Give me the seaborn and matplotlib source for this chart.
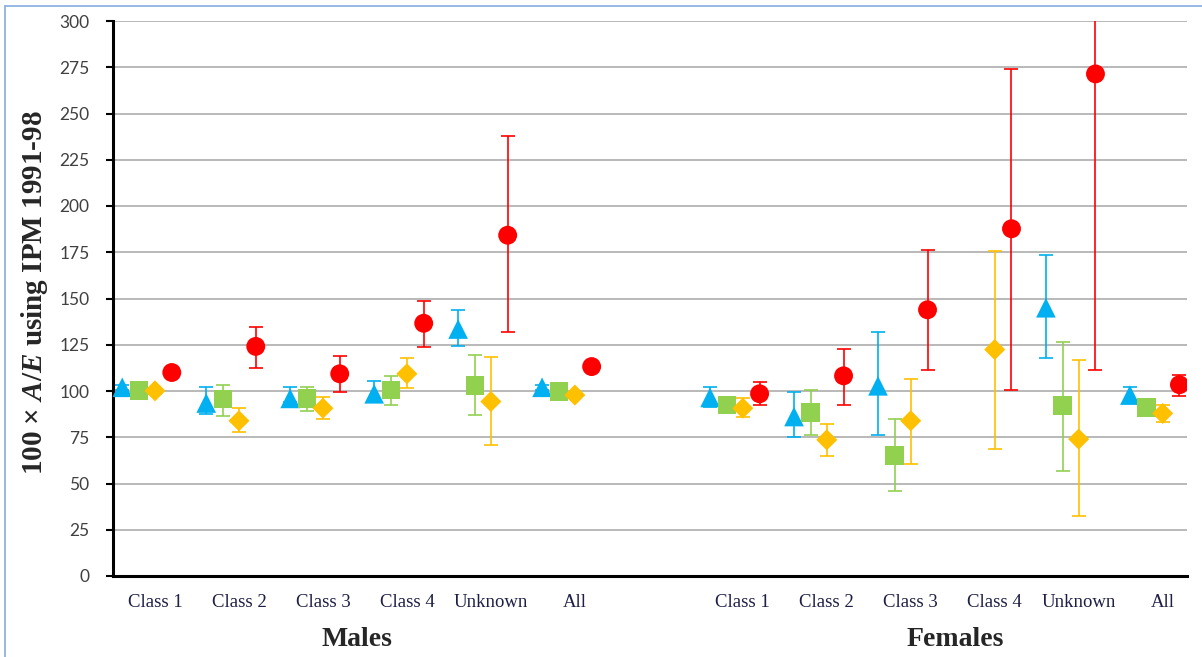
import numpy as np
import pandas as pd
import matplotlib
matplotlib.use("Agg")
import matplotlib.pyplot as plt
import seaborn as sns
from matplotlib.lines import Line2D
from matplotlib.ticker import FixedLocator

nan = np.nan

# ---------------- data ----------------
categories = ["Class 1", "Class 2", "Class 3", "Class 4", "Unknown", "All"]
groups = ["Males", "Females"]
series_names = ["Triangle series", "Square series", "Diamond series", "Circle series"]

# values: Males (6) then Females (6)
tri_val = [102.0, 93.5, 96.0, 98.5, 133.5, 102.0, 96.5, 86.2, 102.8, nan, 145.0, 97.8]
tri_lo = [100.5, 87.5, 94.0, 94.0, 124.5, 100.5, 91.5, 75.2, 76.1, nan, 118.0, 94.0]
tri_hi = [103.5, 102.0, 102.0, 105.5, 143.6, 103.5, 102.1, 99.4, 131.7, nan, 173.7, 102.3]

sq_val = [100.3, 95.6, 96.0, 100.5, 103.0, 99.6, 92.4, 88.4, 65.1, nan, 92.2, 91.0]
sq_lo = [98.0, 86.6, 89.3, 92.7, 86.8, 97.5, 90.0, 76.3, 45.8, nan, 56.6, 89.0]
sq_hi = [102.5, 103.0, 102.1, 108.2, 119.3, 101.5, 95.0, 100.5, 85.0, nan, 126.7, 93.0]

dia_val = [100.1, 83.9, 90.7, 109.3, 94.3, 97.8, 90.7, 73.6, 83.9, 122.4, 74.0, 87.9]
dia_lo = [98.5, 77.7, 85.0, 101.4, 71.0, 96.5, 85.7, 64.9, 60.4, 68.8, 32.3, 83.3]
dia_hi = [101.5, 90.7, 97.0, 117.8, 118.6, 99.0, 96.0, 82.1, 106.4, 175.9, 116.6, 92.2]

cir_val = [110.0, 124.1, 109.3, 136.6, 184.2, 113.2, 98.5, 108.2, 143.9, 187.7, 271.4, 103.4]
cir_lo = [108.0, 112.6, 99.4, 123.8, 131.7, 111.5, 92.7, 92.4, 111.5, 100.7, 111.2, 97.4]
cir_hi = [112.0, 134.4, 118.7, 148.8, 237.9, 115.0, 104.8, 122.8, 176.0, 274.1, 330.0, 108.7]

y_ticks = [0, 25, 50, 75, 100, 125, 150, 175, 200, 225, 250, 275, 300]

# ---------------- styles ----------------
colors = ["#00B0F0", "#92D050", "#FFC000", "#FF0000"]
markers = ["^", "s", "D", "o"]
sizes = [200, 180, 115, 185]
offsets = [-0.39, -0.19, 0.0, 0.2]

rows = []
vals = [tri_val, sq_val, dia_val, cir_val]
los = [tri_lo, sq_lo, dia_lo, cir_lo]
his = [tri_hi, sq_hi, dia_hi, cir_hi]
for si, name in enumerate(series_names):
    for gi, g in enumerate(groups):
        for ci, c in enumerate(categories):
            k = gi * len(categories) + ci
            rows.append(dict(series=name, group=g, category=c,
                             slot=gi * (len(categories) + 1) + ci,
                             value=vals[si][k], lo=los[si][k], hi=his[si][k]))
df = pd.DataFrame(rows)

sns.set_style("white")
plt.rcParams["font.family"] = ["Liberation Serif", "DejaVu Serif"]
plt.rcParams["mathtext.fontset"] = "custom"
plt.rcParams["mathtext.it"] = "Liberation Serif:bold:italic"
plt.rcParams["mathtext.rm"] = "Liberation Serif:bold"

W, H = 1202, 657
fig = plt.figure(figsize=(W / 100, H / 100), dpi=100)
fig.patch.set_facecolor("white")
ax = fig.add_axes([113 / W, 1 - 576 / H, (1187 - 113) / W, (576 - 21) / H])

for si, name in enumerate(series_names):
    d = df[(df.series == name) & df.value.notna()].copy()
    d["x"] = d["slot"] + offsets[si]
    ax.errorbar(d["x"], d["value"],
                yerr=[d["value"] - d["lo"], d["hi"] - d["value"]],
                fmt="none", ecolor=colors[si], elinewidth=1.2,
                capsize=5, capthick=1.2, zorder=2)
    sns.scatterplot(data=d, x="x", y="value", color=colors[si], marker=markers[si],
                    s=sizes[si], linewidth=0, edgecolor="none", ax=ax,
                    legend=False, zorder=3)

n_slots = 2 * len(categories) + 1
ax.set_xlim(-0.5, 12.29)
ax.set_ylim(0, 300)

centers = [gi * (len(categories) + 1) + ci for gi in range(2) for ci in range(len(categories))]
ax.xaxis.set_major_locator(FixedLocator(centers))
ax.set_xticklabels(categories * 2, fontsize=13.5, color="#1E1E46",
                   family=["Liberation Serif"])
ax.xaxis.set_minor_locator(FixedLocator([b - 0.5 for b in range(n_slots)]))
ax.tick_params(axis="x", which="major", length=0, pad=13)
ax.tick_params(axis="x", which="minor", length=5, width=2, color="black", direction="out")

ax.yaxis.set_major_locator(FixedLocator(y_ticks))
ax.set_yticklabels([str(t) for t in y_ticks], fontsize=12.5, color="#404040",
                   family=["Lato", "DejaVu Sans"])
ax.tick_params(axis="y", which="major", length=5, width=1.5, color="black",
               direction="out", pad=12, left=True)

ax.yaxis.grid(True, color="#A6A6A6", linewidth=1.1)
ax.xaxis.grid(False)
ax.set_axisbelow(True)
sns.despine(ax=ax, top=True, right=True)
for s in ["left", "bottom"]:
    ax.spines[s].set_color("black")
    ax.spines[s].set_linewidth(2.2)
ax.set_xlabel("")
ax.set_ylabel("")

fig.text(35 / W, 1 - 293 / H, r"100 × $A/E$ using IPM 1991-98", rotation=90,
         ha="center", va="center", fontsize=21, fontweight="bold",
         family=["Liberation Serif"])

fig.text(357 / W, 1 - 640 / H, "Males", ha="center", va="center",
         fontsize=20, fontweight="bold", family=["Liberation Serif"])
fig.text(955 / W, 1 - 640 / H, "Females", ha="center", va="center",
         fontsize=20, fontweight="bold", family=["Liberation Serif"])

# light blue chart frame (top and left edges visible)
fig.add_artist(Line2D([5 / W, 1.0], [1 - 6 / H, 1 - 6 / H], transform=fig.transFigure,
                      color="#8DB3E2", linewidth=1.3))
fig.add_artist(Line2D([5 / W, 5 / W], [0.0, 1 - 6 / H], transform=fig.transFigure,
                      color="#8DB3E2", linewidth=1.3))

fig.savefig("out.png", dpi=100, facecolor="white")
